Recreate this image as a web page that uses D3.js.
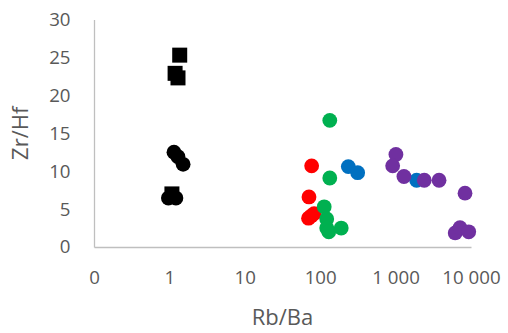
<!DOCTYPE html>
<html>
<head>
<meta charset="utf-8">
<script src="https://cdn.jsdelivr.net/npm/d3@7/dist/d3.min.js"></script>
<style>
  html, body { margin: 0; padding: 0; background: #fff; }
  svg { display: block; font-family: "Open Sans", "Liberation Sans", sans-serif; }
</style>
</head>
<body>
<svg id="chart" width="508" height="333"></svg>
<script>
// Axis ticks and labels
const xTicks = [0.1, 1, 10, 100, 1000, 10000];
const xTickLabels = ["0", "1", "10", "100", "1 000", "10 000"];
const yTicks = [0, 5, 10, 15, 20, 25, 30];
const yTickLabels = ["0", "5", "10", "15", "20", "25", "30"];

// Rb/Ba (x) and Zr/Hf (y) per group
const blackSquareX = [1.37, 1.19, 1.30, 1.08];
const blackSquareY = [25.3, 22.9, 22.3, 7.0];
const blackCircleX = [1.15, 1.30, 1.52, 0.97, 1.22];
const blackCircleY = [12.5, 11.9, 10.9, 6.45, 6.45];
const redX = [77, 71, 70, 76, 83];
const redY = [10.7, 6.6, 3.8, 4.1, 4.4];
const greenX = [134, 134, 113, 122, 122, 130, 190];
const greenY = [16.7, 9.1, 5.3, 3.7, 2.5, 2.0, 2.5];
const blueX = [236, 314, 1900];
const blueY = [10.6, 9.8, 8.8];
const purpleX = [1010, 914, 1290, 2400, 3770, 8330, 6170, 7150, 9330];
const purpleY = [12.2, 10.7, 9.3, 8.8, 8.8, 7.1, 1.85, 2.55, 2.0];

const svg = d3.select("#chart");
const textColor = "#595959";
const axisColor = "#bfbfbf";

const x = d3.scaleLog().domain([0.1, 10000]).range([94, 471]);
const y = d3.scaleLinear().domain([0, 30]).range([247, 19.5]);

// Axes: plain lines with labels, no tick marks
const xAxis = d3.axisBottom(x)
  .tickValues(xTicks)
  .tickFormat((d, i) => xTickLabels[i])
  .tickSize(0)
  .tickPadding(24);
const yAxis = d3.axisLeft(y)
  .tickValues(yTicks)
  .tickFormat((d, i) => yTickLabels[i])
  .tickSize(0)
  .tickPadding(23.5);

const gx = svg.append("g").attr("transform", `translate(0,${y(0)})`).call(xAxis);
const gy = svg.append("g").attr("transform", `translate(${x(0.1)},0)`).call(yAxis);

[gx, gy].forEach(g => {
  g.select(".domain").attr("stroke", axisColor).attr("stroke-width", 1.3);
  g.selectAll(".tick text")
    .attr("fill", textColor)
    .style("font-size", "18.7px")
    .style("font-family", "'Open Sans', sans-serif");
});

// Axis titles
svg.append("text")
  .attr("x", (x.range()[0] + x.range()[1]) / 2)
  .attr("y", 325)
  .attr("text-anchor", "middle")
  .attr("fill", textColor)
  .style("font-size", "22px")
  .text("Rb/Ba");

svg.append("text")
  .attr("transform", `translate(27.5,${(y.range()[0] + y.range()[1]) / 2}) rotate(-90)`)
  .attr("text-anchor", "middle")
  .attr("fill", textColor)
  .style("font-size", "22px")
  .text("Zr/Hf");

// Markers
const r = 7.4;
const side = 15;
const plot = svg.append("g");

function circles(xs, ys, color) {
  plot.append("g").selectAll("circle")
    .data(xs.map((v, i) => [v, ys[i]]))
    .join("circle")
    .attr("cx", d => x(d[0]))
    .attr("cy", d => y(d[1]))
    .attr("r", r)
    .attr("fill", color);
}

function squares(xs, ys, color) {
  plot.append("g").selectAll("rect")
    .data(xs.map((v, i) => [v, ys[i]]))
    .join("rect")
    .attr("x", d => x(d[0]) - side / 2)
    .attr("y", d => y(d[1]) - side / 2)
    .attr("width", side)
    .attr("height", side)
    .attr("fill", color);
}

squares(blackSquareX, blackSquareY, "#000000");
circles(blackCircleX, blackCircleY, "#000000");
circles(redX, redY, "#ff0000");
circles(greenX, greenY, "#00b050");
circles(blueX, blueY, "#0070c0");
circles(purpleX, purpleY, "#7030a0");
</script>
</body>
</html>
